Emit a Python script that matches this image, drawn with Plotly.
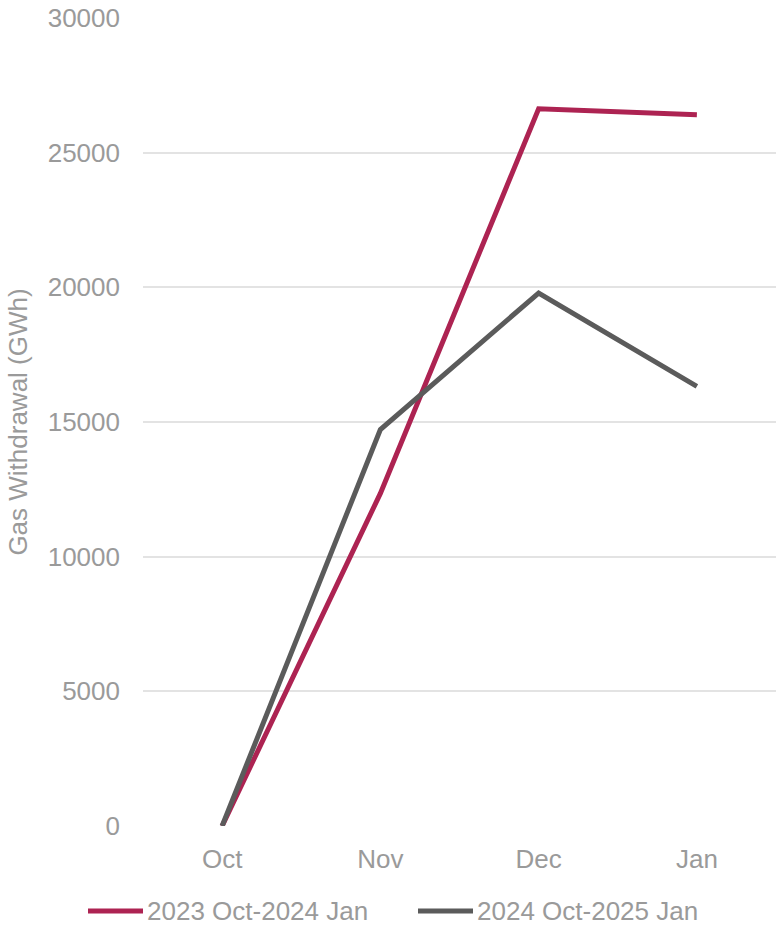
import plotly.graph_objects as go

months = ["Oct", "Nov", "Dec", "Jan"]
series_names = ["2023 Oct-2024 Jan", "2024 Oct-2025 Jan"]
withdrawal_2023 = [0, 12350, 26630, 26410]
withdrawal_2024 = [0, 14720, 19790, 16320]
y_ticks = [0, 5000, 10000, 15000, 20000, 25000, 30000]

colors = ["#AD2352", "#5B5B5B"]
text_color = "#9A9A9A"
font_family = "Liberation Sans, Arial, sans-serif"

fig = go.Figure()
for name, vals, col in zip(series_names, [withdrawal_2023, withdrawal_2024], colors):
    fig.add_trace(go.Scatter(
        x=months, y=vals, mode="lines", name=name,
        line=dict(color=col, width=5), showlegend=False,
    ))

# Custom legend (Excel-like long line samples)
L, R, T, B = 143, 776, 18, 826
W, H = R - L, B - T
def px(x):
    return (x - L) / W
def py(y):
    return (B - y) / H

legend_items = [(88, 143, 145), (418, 473, 475)]
for (x0, x1, xt), name, col in zip(legend_items, series_names, colors):
    fig.add_shape(type="line", xref="paper", yref="paper",
                  x0=px(x0), x1=px(x1), y0=py(911), y1=py(911),
                  line=dict(color=col, width=5))
    fig.add_annotation(xref="paper", yref="paper", x=px(xt), y=py(911),
                       text=name, showarrow=False, xanchor="left", yanchor="middle",
                       font=dict(size=26, color=text_color, family=font_family))

fig.update_layout(
    width=776, height=926,
    margin=dict(l=L, r=0, t=T, b=926 - B),
    paper_bgcolor="white", plot_bgcolor="white",
    font=dict(family=font_family, size=26, color=text_color),
)
fig.update_xaxes(
    type="category", range=[-0.5, 3.5], showgrid=False, zeroline=False,
    showline=False, ticks="", ticklabelstandoff=15,
    tickfont=dict(size=26, color=text_color),
)
fig.update_yaxes(
    range=[0, 30000], tickvals=y_ticks, ticktext=[str(v) for v in y_ticks],
    showgrid=True, gridcolor="#E3E3E3", gridwidth=1.5,
    zeroline=False, showline=False, ticks="", ticklabelstandoff=22,
    tickfont=dict(size=26, color=text_color),
    title=dict(text="Gas Withdrawal (GWh)", standoff=12,
               font=dict(size=26, color=text_color)),
)

fig.write_html("out.html")
